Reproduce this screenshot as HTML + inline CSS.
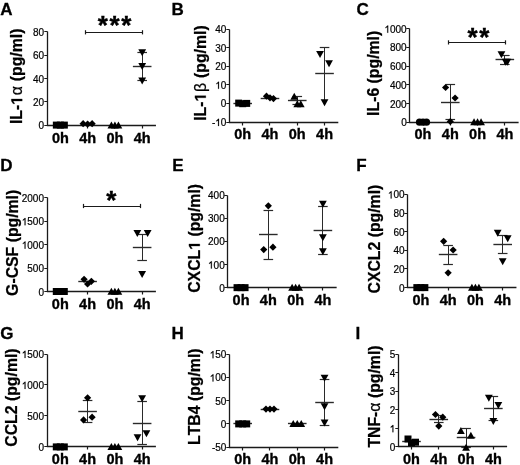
<!DOCTYPE html>
<html><head><meta charset="utf-8"><style>
html,body{margin:0;padding:0;background:#fff;width:520px;height:465px;overflow:hidden}
svg{display:block;will-change:transform}
</style></head><body>
<svg style="font-kerning:none" width="520" height="465" viewBox="0 0 520 465" font-family='"Liberation Sans", sans-serif' fill="#000">
<rect width="520" height="465" fill="#fff"/>
<text x="0.30" y="14.60" font-size="17" font-weight="bold" text-anchor="start" stroke="#000" stroke-width="0.3">A</text>
<g transform="translate(22.20,124.10) rotate(-90)" stroke="#000" stroke-width="0.25">
<text x="0.00" y="0" font-size="15.8" font-weight="bold" xml:space="preserve">IL-</text>
<polygon points="22.99,0.00 25.16,0.00 25.16,-10.87 23.11,-10.87 20.38,-9.10 20.38,-7.40 22.99,-9.03"/>
<text x="28.74" y="0" font-size="15.8" font-weight="normal">α</text>
<text x="38.52" y="0" font-size="15.8" font-weight="bold" xml:space="preserve"> (pg/ml)</text>
</g>
<path d="M47.50,31.50L47.50,125.50L155.95,125.50" fill="none" stroke="#1a1a1a" stroke-width="1.3"/>
<line x1="44.30" y1="125.50" x2="47.50" y2="125.50" stroke="#1a1a1a" stroke-width="1.0"/>
<text x="44.05" y="129.30" font-size="10" text-anchor="end" stroke="#000" stroke-width="0.2">0</text>
<line x1="44.30" y1="101.50" x2="47.50" y2="101.50" stroke="#1a1a1a" stroke-width="1.0"/>
<text x="44.05" y="105.95" font-size="10" text-anchor="end" stroke="#000" stroke-width="0.2">20</text>
<line x1="44.30" y1="78.50" x2="47.50" y2="78.50" stroke="#1a1a1a" stroke-width="1.0"/>
<text x="44.05" y="82.60" font-size="10" text-anchor="end" stroke="#000" stroke-width="0.2">40</text>
<line x1="44.30" y1="55.50" x2="47.50" y2="55.50" stroke="#1a1a1a" stroke-width="1.0"/>
<text x="44.05" y="59.25" font-size="10" text-anchor="end" stroke="#000" stroke-width="0.2">60</text>
<line x1="44.30" y1="31.50" x2="47.50" y2="31.50" stroke="#1a1a1a" stroke-width="1.0"/>
<text x="44.05" y="35.90" font-size="10" text-anchor="end" stroke="#000" stroke-width="0.2">80</text>
<line x1="60.50" y1="125.50" x2="60.50" y2="128.50" stroke="#1a1a1a" stroke-width="1.2"/>
<text x="60.35" y="142.50" font-size="14.5" font-weight="bold" text-anchor="middle" stroke="#000" stroke-width="0.35">0h</text>
<line x1="87.50" y1="125.50" x2="87.50" y2="128.50" stroke="#1a1a1a" stroke-width="1.2"/>
<text x="87.63" y="142.50" font-size="14.5" font-weight="bold" text-anchor="middle" stroke="#000" stroke-width="0.35">4h</text>
<line x1="114.50" y1="125.50" x2="114.50" y2="128.50" stroke="#1a1a1a" stroke-width="1.2"/>
<text x="114.91" y="142.50" font-size="14.5" font-weight="bold" text-anchor="middle" stroke="#000" stroke-width="0.35">0h</text>
<line x1="142.50" y1="125.50" x2="142.50" y2="128.50" stroke="#1a1a1a" stroke-width="1.2"/>
<text x="142.19" y="142.50" font-size="14.5" font-weight="bold" text-anchor="middle" stroke="#000" stroke-width="0.35">4h</text>
<line x1="142.50" y1="52.40" x2="142.50" y2="80.60" stroke="#2a2a2a" stroke-width="1.0"/>
<line x1="137.39" y1="52.50" x2="146.99" y2="52.50" stroke="#2a2a2a" stroke-width="1.2"/>
<line x1="137.39" y1="80.50" x2="146.99" y2="80.50" stroke="#2a2a2a" stroke-width="1.2"/>
<line x1="132.89" y1="66.50" x2="151.49" y2="66.50" stroke="#2a2a2a" stroke-width="1.4"/>
<rect x="52.85" y="121.60" width="7.00" height="7.00"/>
<rect x="56.85" y="121.60" width="7.00" height="7.00"/>
<rect x="60.85" y="121.60" width="7.00" height="7.00"/>
<path d="M83.13,120.10L86.73,123.70L83.13,127.30L79.53,123.70Z"/>
<path d="M87.63,120.50L91.23,124.10L87.63,127.70L84.03,124.10Z"/>
<path d="M92.13,120.10L95.73,123.70L92.13,127.30L88.53,123.70Z"/>
<path d="M111.41,121.45L115.31,128.45L107.51,128.45Z"/>
<path d="M114.91,121.45L118.81,128.45L111.01,128.45Z"/>
<path d="M118.41,121.45L122.31,128.45L114.51,128.45Z"/>
<path d="M142.19,56.34L146.09,49.34L138.29,49.34Z"/>
<path d="M142.19,69.94L146.09,62.94L138.29,62.94Z"/>
<path d="M142.19,84.54L146.09,77.54L138.29,77.54Z"/>
<line x1="85.40" y1="32.50" x2="142.60" y2="32.50" stroke="#1a1a1a" stroke-width="1.2"/>
<line x1="85.50" y1="30.20" x2="85.50" y2="34.40" stroke="#1a1a1a" stroke-width="1.2"/>
<line x1="142.50" y1="30.20" x2="142.50" y2="34.40" stroke="#1a1a1a" stroke-width="1.2"/>
<text x="115.40" y="33.60" font-size="26" font-weight="bold" text-anchor="middle" letter-spacing="1.6" stroke="#000" stroke-width="0.4">***</text>
<text x="171.60" y="14.60" font-size="17" font-weight="bold" text-anchor="start" stroke="#000" stroke-width="0.3">B</text>
<g transform="translate(205.80,120.80) rotate(-90)" stroke="#000" stroke-width="0.25">
<text x="0.00" y="0" font-size="15.8" font-weight="bold" xml:space="preserve">IL-</text>
<polygon points="22.99,0.00 25.16,0.00 25.16,-10.87 23.11,-10.87 20.38,-9.10 20.38,-7.40 22.99,-9.03"/>
<text x="28.74" y="0" font-size="15.8" font-weight="normal">β</text>
<text x="38.48" y="0" font-size="15.8" font-weight="bold" xml:space="preserve"> (pg/ml)</text>
</g>
<path d="M229.50,29.50L229.50,122.50L338.30,122.50" fill="none" stroke="#1a1a1a" stroke-width="1.3"/>
<line x1="226.30" y1="122.50" x2="229.50" y2="122.50" stroke="#1a1a1a" stroke-width="1.0"/>
<text x="226.40" y="126.00" font-size="10" text-anchor="end" stroke="#000" stroke-width="0.2">- 0</text>
<polygon points="219.00,126.00 218.12,126.00 218.12,120.40 216.37,121.46 216.37,120.61 218.42,118.84 219.00,118.84" stroke="#000" stroke-width="0.2"/>
<line x1="226.30" y1="103.50" x2="229.50" y2="103.50" stroke="#1a1a1a" stroke-width="1.0"/>
<text x="226.40" y="107.40" font-size="10" text-anchor="end" stroke="#000" stroke-width="0.2">0</text>
<line x1="226.30" y1="84.50" x2="229.50" y2="84.50" stroke="#1a1a1a" stroke-width="1.0"/>
<text x="226.40" y="88.80" font-size="10" text-anchor="end" stroke="#000" stroke-width="0.2"> 0</text>
<polygon points="219.00,88.80 218.12,88.80 218.12,83.20 216.37,84.26 216.37,83.41 218.42,81.64 219.00,81.64" stroke="#000" stroke-width="0.2"/>
<line x1="226.30" y1="66.50" x2="229.50" y2="66.50" stroke="#1a1a1a" stroke-width="1.0"/>
<text x="226.40" y="70.20" font-size="10" text-anchor="end" stroke="#000" stroke-width="0.2">20</text>
<line x1="226.30" y1="47.50" x2="229.50" y2="47.50" stroke="#1a1a1a" stroke-width="1.0"/>
<text x="226.40" y="51.60" font-size="10" text-anchor="end" stroke="#000" stroke-width="0.2">30</text>
<line x1="226.30" y1="29.50" x2="229.50" y2="29.50" stroke="#1a1a1a" stroke-width="1.0"/>
<text x="226.40" y="33.00" font-size="10" text-anchor="end" stroke="#000" stroke-width="0.2">40</text>
<line x1="242.50" y1="122.50" x2="242.50" y2="125.50" stroke="#1a1a1a" stroke-width="1.2"/>
<text x="242.70" y="139.20" font-size="14.5" font-weight="bold" text-anchor="middle" stroke="#000" stroke-width="0.35">0h</text>
<line x1="269.50" y1="122.50" x2="269.50" y2="125.50" stroke="#1a1a1a" stroke-width="1.2"/>
<text x="269.98" y="139.20" font-size="14.5" font-weight="bold" text-anchor="middle" stroke="#000" stroke-width="0.35">4h</text>
<line x1="297.50" y1="122.50" x2="297.50" y2="125.50" stroke="#1a1a1a" stroke-width="1.2"/>
<text x="297.26" y="139.20" font-size="14.5" font-weight="bold" text-anchor="middle" stroke="#000" stroke-width="0.35">0h</text>
<line x1="324.50" y1="122.50" x2="324.50" y2="125.50" stroke="#1a1a1a" stroke-width="1.2"/>
<text x="324.54" y="139.20" font-size="14.5" font-weight="bold" text-anchor="middle" stroke="#000" stroke-width="0.35">4h</text>
<line x1="233.40" y1="103.50" x2="252.00" y2="103.50" stroke="#2a2a2a" stroke-width="1.4"/>
<line x1="260.68" y1="98.50" x2="279.28" y2="98.50" stroke="#2a2a2a" stroke-width="1.4"/>
<line x1="297.50" y1="96.90" x2="297.50" y2="104.50" stroke="#2a2a2a" stroke-width="1.0"/>
<line x1="292.46" y1="96.50" x2="302.06" y2="96.50" stroke="#2a2a2a" stroke-width="1.2"/>
<line x1="292.46" y1="104.50" x2="302.06" y2="104.50" stroke="#2a2a2a" stroke-width="1.2"/>
<line x1="287.96" y1="100.50" x2="306.56" y2="100.50" stroke="#2a2a2a" stroke-width="1.4"/>
<line x1="324.50" y1="47.50" x2="324.50" y2="101.00" stroke="#2a2a2a" stroke-width="1.0"/>
<line x1="319.74" y1="47.50" x2="329.34" y2="47.50" stroke="#2a2a2a" stroke-width="1.2"/>
<line x1="315.24" y1="73.50" x2="333.84" y2="73.50" stroke="#2a2a2a" stroke-width="1.4"/>
<rect x="235.20" y="99.60" width="7.00" height="7.00"/>
<rect x="239.20" y="100.20" width="7.00" height="7.00"/>
<rect x="243.20" y="99.90" width="7.00" height="7.00"/>
<path d="M266.48,92.60L270.08,96.20L266.48,99.80L262.88,96.20Z"/>
<path d="M269.98,94.20L273.58,97.80L269.98,101.40L266.38,97.80Z"/>
<path d="M273.48,95.00L277.08,98.60L273.48,102.20L269.88,98.60Z"/>
<path d="M294.26,92.65L298.16,99.65L290.36,99.65Z"/>
<path d="M297.26,100.15L301.16,107.15L293.36,107.15Z"/>
<path d="M300.76,100.15L304.66,107.15L296.86,107.15Z"/>
<path d="M320.04,57.94L323.94,50.94L316.14,50.94Z"/>
<path d="M329.04,67.34L332.94,60.34L325.14,60.34Z"/>
<path d="M324.54,106.34L328.44,99.34L320.64,99.34Z"/>
<text x="356.50" y="14.60" font-size="17" font-weight="bold" text-anchor="start" stroke="#000" stroke-width="0.3">C</text>
<g transform="translate(379.10,115.90) rotate(-90)" stroke="#000" stroke-width="0.25">
<text x="0.00" y="0" font-size="15.8" font-weight="bold" xml:space="preserve">IL-6 (pg/ml)</text>
</g>
<path d="M409.50,28.50L409.50,122.50L518.60,122.50" fill="none" stroke="#1a1a1a" stroke-width="1.3"/>
<line x1="406.30" y1="122.50" x2="409.50" y2="122.50" stroke="#1a1a1a" stroke-width="1.0"/>
<text x="406.70" y="126.20" font-size="10" text-anchor="end" stroke="#000" stroke-width="0.2">0</text>
<line x1="406.30" y1="103.50" x2="409.50" y2="103.50" stroke="#1a1a1a" stroke-width="1.0"/>
<text x="406.70" y="107.50" font-size="10" text-anchor="end" stroke="#000" stroke-width="0.2">200</text>
<line x1="406.30" y1="84.50" x2="409.50" y2="84.50" stroke="#1a1a1a" stroke-width="1.0"/>
<text x="406.70" y="88.80" font-size="10" text-anchor="end" stroke="#000" stroke-width="0.2">400</text>
<line x1="406.30" y1="66.50" x2="409.50" y2="66.50" stroke="#1a1a1a" stroke-width="1.0"/>
<text x="406.70" y="70.10" font-size="10" text-anchor="end" stroke="#000" stroke-width="0.2">600</text>
<line x1="406.30" y1="47.50" x2="409.50" y2="47.50" stroke="#1a1a1a" stroke-width="1.0"/>
<text x="406.70" y="51.40" font-size="10" text-anchor="end" stroke="#000" stroke-width="0.2">800</text>
<line x1="406.30" y1="28.50" x2="409.50" y2="28.50" stroke="#1a1a1a" stroke-width="1.0"/>
<text x="406.70" y="32.70" font-size="10" text-anchor="end" stroke="#000" stroke-width="0.2"> 000</text>
<polygon points="388.18,32.70 387.30,32.70 387.30,27.10 385.54,28.16 385.54,27.31 387.59,25.54 388.18,25.54" stroke="#000" stroke-width="0.2"/>
<line x1="423.50" y1="122.50" x2="423.50" y2="125.50" stroke="#1a1a1a" stroke-width="1.2"/>
<text x="423.00" y="139.40" font-size="14.5" font-weight="bold" text-anchor="middle" stroke="#000" stroke-width="0.35">0h</text>
<line x1="450.50" y1="122.50" x2="450.50" y2="125.50" stroke="#1a1a1a" stroke-width="1.2"/>
<text x="450.28" y="139.40" font-size="14.5" font-weight="bold" text-anchor="middle" stroke="#000" stroke-width="0.35">4h</text>
<line x1="477.50" y1="122.50" x2="477.50" y2="125.50" stroke="#1a1a1a" stroke-width="1.2"/>
<text x="477.56" y="139.40" font-size="14.5" font-weight="bold" text-anchor="middle" stroke="#000" stroke-width="0.35">0h</text>
<line x1="504.50" y1="122.50" x2="504.50" y2="125.50" stroke="#1a1a1a" stroke-width="1.2"/>
<text x="504.84" y="139.40" font-size="14.5" font-weight="bold" text-anchor="middle" stroke="#000" stroke-width="0.35">4h</text>
<line x1="450.50" y1="84.50" x2="450.50" y2="119.60" stroke="#2a2a2a" stroke-width="1.0"/>
<line x1="445.48" y1="84.50" x2="455.08" y2="84.50" stroke="#2a2a2a" stroke-width="1.2"/>
<line x1="445.48" y1="119.50" x2="455.08" y2="119.50" stroke="#2a2a2a" stroke-width="1.2"/>
<line x1="440.98" y1="102.50" x2="459.58" y2="102.50" stroke="#2a2a2a" stroke-width="1.4"/>
<line x1="504.50" y1="55.40" x2="504.50" y2="64.00" stroke="#2a2a2a" stroke-width="1.0"/>
<line x1="500.04" y1="55.50" x2="509.64" y2="55.50" stroke="#2a2a2a" stroke-width="1.2"/>
<line x1="500.04" y1="64.50" x2="509.64" y2="64.50" stroke="#2a2a2a" stroke-width="1.2"/>
<line x1="495.54" y1="59.50" x2="514.14" y2="59.50" stroke="#2a2a2a" stroke-width="1.4"/>
<circle cx="419.50" cy="122.20" r="3.6"/>
<circle cx="423.00" cy="122.20" r="3.6"/>
<circle cx="426.50" cy="122.20" r="3.6"/>
<path d="M445.58,83.90L449.18,87.50L445.58,91.10L441.98,87.50Z"/>
<path d="M455.08,94.40L458.68,98.00L455.08,101.60L451.48,98.00Z"/>
<path d="M450.28,117.90L453.88,121.50L450.28,125.10L446.68,121.50Z"/>
<path d="M474.06,118.35L477.96,125.35L470.16,125.35Z"/>
<path d="M477.56,118.35L481.46,125.35L473.66,125.35Z"/>
<path d="M481.06,118.35L484.96,125.35L477.16,125.35Z"/>
<path d="M501.44,58.14L505.34,51.14L497.54,51.14Z"/>
<path d="M505.64,65.74L509.54,58.74L501.74,58.74Z"/>
<path d="M507.34,65.74L511.24,58.74L503.44,58.74Z"/>
<line x1="448.50" y1="42.50" x2="505.30" y2="42.50" stroke="#1a1a1a" stroke-width="1.2"/>
<line x1="448.50" y1="40.30" x2="448.50" y2="44.50" stroke="#1a1a1a" stroke-width="1.2"/>
<line x1="505.50" y1="40.30" x2="505.50" y2="44.50" stroke="#1a1a1a" stroke-width="1.2"/>
<text x="479.30" y="46.00" font-size="26" font-weight="bold" text-anchor="middle" letter-spacing="1.6" stroke="#000" stroke-width="0.4">**</text>
<text x="0.30" y="171.00" font-size="17" font-weight="bold" text-anchor="start" stroke="#000" stroke-width="0.3">D</text>
<g transform="translate(17.50,295.90) rotate(-90)" stroke="#000" stroke-width="0.25">
<text x="0.00" y="0" font-size="15.8" font-weight="bold" xml:space="preserve">G-CSF (pg/ml)</text>
</g>
<path d="M47.50,197.50L47.50,291.50L155.90,291.50" fill="none" stroke="#1a1a1a" stroke-width="1.3"/>
<line x1="44.30" y1="291.50" x2="47.50" y2="291.50" stroke="#1a1a1a" stroke-width="1.0"/>
<text x="44.00" y="295.50" font-size="10" text-anchor="end" stroke="#000" stroke-width="0.2">0</text>
<line x1="44.30" y1="268.50" x2="47.50" y2="268.50" stroke="#1a1a1a" stroke-width="1.0"/>
<text x="44.00" y="272.07" font-size="10" text-anchor="end" stroke="#000" stroke-width="0.2">500</text>
<line x1="44.30" y1="244.50" x2="47.50" y2="244.50" stroke="#1a1a1a" stroke-width="1.0"/>
<text x="44.00" y="248.65" font-size="10" text-anchor="end" stroke="#000" stroke-width="0.2"> 000</text>
<polygon points="25.48,248.65 24.60,248.65 24.60,243.05 22.84,244.11 22.84,243.26 24.89,241.49 25.48,241.49" stroke="#000" stroke-width="0.2"/>
<line x1="44.30" y1="221.50" x2="47.50" y2="221.50" stroke="#1a1a1a" stroke-width="1.0"/>
<text x="44.00" y="225.23" font-size="10" text-anchor="end" stroke="#000" stroke-width="0.2"> 500</text>
<polygon points="25.48,225.23 24.60,225.23 24.60,219.62 22.84,220.68 22.84,219.83 24.89,218.07 25.48,218.07" stroke="#000" stroke-width="0.2"/>
<line x1="44.30" y1="197.50" x2="47.50" y2="197.50" stroke="#1a1a1a" stroke-width="1.0"/>
<text x="44.00" y="201.80" font-size="10" text-anchor="end" stroke="#000" stroke-width="0.2">2000</text>
<line x1="60.50" y1="291.50" x2="60.50" y2="294.50" stroke="#1a1a1a" stroke-width="1.2"/>
<text x="60.30" y="308.70" font-size="14.5" font-weight="bold" text-anchor="middle" stroke="#000" stroke-width="0.35">0h</text>
<line x1="87.50" y1="291.50" x2="87.50" y2="294.50" stroke="#1a1a1a" stroke-width="1.2"/>
<text x="87.58" y="308.70" font-size="14.5" font-weight="bold" text-anchor="middle" stroke="#000" stroke-width="0.35">4h</text>
<line x1="114.50" y1="291.50" x2="114.50" y2="294.50" stroke="#1a1a1a" stroke-width="1.2"/>
<text x="114.86" y="308.70" font-size="14.5" font-weight="bold" text-anchor="middle" stroke="#000" stroke-width="0.35">0h</text>
<line x1="142.50" y1="291.50" x2="142.50" y2="294.50" stroke="#1a1a1a" stroke-width="1.2"/>
<text x="142.14" y="308.70" font-size="14.5" font-weight="bold" text-anchor="middle" stroke="#000" stroke-width="0.35">4h</text>
<line x1="78.28" y1="281.50" x2="96.88" y2="281.50" stroke="#2a2a2a" stroke-width="1.4"/>
<line x1="142.50" y1="234.50" x2="142.50" y2="260.60" stroke="#2a2a2a" stroke-width="1.0"/>
<line x1="137.34" y1="234.50" x2="146.94" y2="234.50" stroke="#2a2a2a" stroke-width="1.2"/>
<line x1="137.34" y1="260.50" x2="146.94" y2="260.50" stroke="#2a2a2a" stroke-width="1.2"/>
<line x1="132.84" y1="247.50" x2="151.44" y2="247.50" stroke="#2a2a2a" stroke-width="1.4"/>
<rect x="52.80" y="288.00" width="7.00" height="7.00"/>
<rect x="56.80" y="288.00" width="7.00" height="7.00"/>
<rect x="60.80" y="288.00" width="7.00" height="7.00"/>
<path d="M84.08,275.70L87.68,279.30L84.08,282.90L80.48,279.30Z"/>
<path d="M87.58,280.40L91.18,284.00L87.58,287.60L83.98,284.00Z"/>
<path d="M91.38,277.70L94.98,281.30L91.38,284.90L87.78,281.30Z"/>
<path d="M111.36,287.65L115.26,294.65L107.46,294.65Z"/>
<path d="M114.86,287.65L118.76,294.65L110.96,294.65Z"/>
<path d="M118.36,287.65L122.26,294.65L114.46,294.65Z"/>
<path d="M137.34,236.94L141.24,229.94L133.44,229.94Z"/>
<path d="M147.64,236.94L151.54,229.94L143.74,229.94Z"/>
<path d="M142.14,278.04L146.04,271.04L138.24,271.04Z"/>
<line x1="83.50" y1="206.50" x2="140.40" y2="206.50" stroke="#1a1a1a" stroke-width="1.2"/>
<line x1="83.50" y1="203.90" x2="83.50" y2="208.10" stroke="#1a1a1a" stroke-width="1.2"/>
<line x1="140.50" y1="203.90" x2="140.50" y2="208.10" stroke="#1a1a1a" stroke-width="1.2"/>
<text x="112.20" y="208.50" font-size="26" font-weight="bold" text-anchor="middle" letter-spacing="1.6" stroke="#000" stroke-width="0.4">*</text>
<text x="172.20" y="171.00" font-size="17" font-weight="bold" text-anchor="start" stroke="#000" stroke-width="0.3">E</text>
<g transform="translate(199.80,292.80) rotate(-90)" stroke="#000" stroke-width="0.25">
<text x="0.00" y="0" font-size="15.8" font-weight="bold" xml:space="preserve">CXCL</text>
<polygon points="46.70,0.00 48.87,0.00 48.87,-10.87 46.81,-10.87 44.09,-9.10 44.09,-7.40 46.70,-9.03"/>
<text x="51.80" y="0" font-size="15.8" font-weight="bold" xml:space="preserve"> (pg/ml)</text>
</g>
<path d="M227.50,195.50L227.50,287.50L336.65,287.50" fill="none" stroke="#1a1a1a" stroke-width="1.3"/>
<line x1="224.30" y1="287.50" x2="227.50" y2="287.50" stroke="#1a1a1a" stroke-width="1.0"/>
<text x="224.75" y="291.65" font-size="10" text-anchor="end" stroke="#000" stroke-width="0.2">0</text>
<line x1="224.30" y1="264.50" x2="227.50" y2="264.50" stroke="#1a1a1a" stroke-width="1.0"/>
<text x="224.75" y="268.51" font-size="10" text-anchor="end" stroke="#000" stroke-width="0.2"> 00</text>
<polygon points="211.79,268.51 210.91,268.51 210.91,262.91 209.15,263.97 209.15,263.12 211.21,261.35 211.79,261.35" stroke="#000" stroke-width="0.2"/>
<line x1="224.30" y1="241.50" x2="227.50" y2="241.50" stroke="#1a1a1a" stroke-width="1.0"/>
<text x="224.75" y="245.38" font-size="10" text-anchor="end" stroke="#000" stroke-width="0.2">200</text>
<line x1="224.30" y1="218.50" x2="227.50" y2="218.50" stroke="#1a1a1a" stroke-width="1.0"/>
<text x="224.75" y="222.24" font-size="10" text-anchor="end" stroke="#000" stroke-width="0.2">300</text>
<line x1="224.30" y1="195.50" x2="227.50" y2="195.50" stroke="#1a1a1a" stroke-width="1.0"/>
<text x="224.75" y="199.10" font-size="10" text-anchor="end" stroke="#000" stroke-width="0.2">400</text>
<line x1="241.50" y1="287.50" x2="241.50" y2="290.50" stroke="#1a1a1a" stroke-width="1.2"/>
<text x="241.05" y="304.85" font-size="14.5" font-weight="bold" text-anchor="middle" stroke="#000" stroke-width="0.35">0h</text>
<line x1="268.50" y1="287.50" x2="268.50" y2="290.50" stroke="#1a1a1a" stroke-width="1.2"/>
<text x="268.33" y="304.85" font-size="14.5" font-weight="bold" text-anchor="middle" stroke="#000" stroke-width="0.35">4h</text>
<line x1="295.50" y1="287.50" x2="295.50" y2="290.50" stroke="#1a1a1a" stroke-width="1.2"/>
<text x="295.61" y="304.85" font-size="14.5" font-weight="bold" text-anchor="middle" stroke="#000" stroke-width="0.35">0h</text>
<line x1="322.50" y1="287.50" x2="322.50" y2="290.50" stroke="#1a1a1a" stroke-width="1.2"/>
<text x="322.89" y="304.85" font-size="14.5" font-weight="bold" text-anchor="middle" stroke="#000" stroke-width="0.35">4h</text>
<line x1="268.50" y1="210.00" x2="268.50" y2="259.00" stroke="#2a2a2a" stroke-width="1.0"/>
<line x1="263.53" y1="210.50" x2="273.13" y2="210.50" stroke="#2a2a2a" stroke-width="1.2"/>
<line x1="263.53" y1="259.50" x2="273.13" y2="259.50" stroke="#2a2a2a" stroke-width="1.2"/>
<line x1="259.03" y1="234.50" x2="277.63" y2="234.50" stroke="#2a2a2a" stroke-width="1.4"/>
<line x1="322.50" y1="206.40" x2="322.50" y2="254.60" stroke="#2a2a2a" stroke-width="1.0"/>
<line x1="318.09" y1="206.50" x2="327.69" y2="206.50" stroke="#2a2a2a" stroke-width="1.2"/>
<line x1="318.09" y1="254.50" x2="327.69" y2="254.50" stroke="#2a2a2a" stroke-width="1.2"/>
<line x1="313.59" y1="230.50" x2="332.19" y2="230.50" stroke="#2a2a2a" stroke-width="1.4"/>
<rect x="233.55" y="284.15" width="7.00" height="7.00"/>
<rect x="237.55" y="284.15" width="7.00" height="7.00"/>
<rect x="241.55" y="284.15" width="7.00" height="7.00"/>
<path d="M268.33,202.20L271.93,205.80L268.33,209.40L264.73,205.80Z"/>
<path d="M263.73,246.00L267.33,249.60L263.73,253.20L260.13,249.60Z"/>
<path d="M272.93,243.60L276.53,247.20L272.93,250.80L269.33,247.20Z"/>
<path d="M292.11,283.80L296.01,290.80L288.21,290.80Z"/>
<path d="M295.61,283.80L299.51,290.80L291.71,290.80Z"/>
<path d="M299.11,283.80L303.01,290.80L295.21,290.80Z"/>
<path d="M322.89,207.84L326.79,200.84L318.99,200.84Z"/>
<path d="M322.89,241.14L326.79,234.14L318.99,234.14Z"/>
<path d="M322.89,255.14L326.79,248.14L318.99,248.14Z"/>
<text x="356.30" y="171.00" font-size="17" font-weight="bold" text-anchor="start" stroke="#000" stroke-width="0.3">F</text>
<g transform="translate(380.10,293.50) rotate(-90)" stroke="#000" stroke-width="0.25">
<text x="0.00" y="0" font-size="15.8" font-weight="bold" xml:space="preserve">CXCL2 (pg/ml)</text>
</g>
<path d="M407.50,194.50L407.50,287.50L516.45,287.50" fill="none" stroke="#1a1a1a" stroke-width="1.3"/>
<line x1="404.30" y1="287.50" x2="407.50" y2="287.50" stroke="#1a1a1a" stroke-width="1.0"/>
<text x="404.55" y="291.60" font-size="10" text-anchor="end" stroke="#000" stroke-width="0.2">0</text>
<line x1="404.30" y1="268.50" x2="407.50" y2="268.50" stroke="#1a1a1a" stroke-width="1.0"/>
<text x="404.55" y="272.96" font-size="10" text-anchor="end" stroke="#000" stroke-width="0.2">20</text>
<line x1="404.30" y1="250.50" x2="407.50" y2="250.50" stroke="#1a1a1a" stroke-width="1.0"/>
<text x="404.55" y="254.32" font-size="10" text-anchor="end" stroke="#000" stroke-width="0.2">40</text>
<line x1="404.30" y1="231.50" x2="407.50" y2="231.50" stroke="#1a1a1a" stroke-width="1.0"/>
<text x="404.55" y="235.68" font-size="10" text-anchor="end" stroke="#000" stroke-width="0.2">60</text>
<line x1="404.30" y1="213.50" x2="407.50" y2="213.50" stroke="#1a1a1a" stroke-width="1.0"/>
<text x="404.55" y="217.04" font-size="10" text-anchor="end" stroke="#000" stroke-width="0.2">80</text>
<line x1="404.30" y1="194.50" x2="407.50" y2="194.50" stroke="#1a1a1a" stroke-width="1.0"/>
<text x="404.55" y="198.40" font-size="10" text-anchor="end" stroke="#000" stroke-width="0.2"> 00</text>
<polygon points="391.59,198.40 390.71,198.40 390.71,192.80 388.95,193.86 388.95,193.01 391.01,191.24 391.59,191.24" stroke="#000" stroke-width="0.2"/>
<line x1="420.50" y1="287.50" x2="420.50" y2="290.50" stroke="#1a1a1a" stroke-width="1.2"/>
<text x="420.85" y="304.80" font-size="14.5" font-weight="bold" text-anchor="middle" stroke="#000" stroke-width="0.35">0h</text>
<line x1="448.50" y1="287.50" x2="448.50" y2="290.50" stroke="#1a1a1a" stroke-width="1.2"/>
<text x="448.13" y="304.80" font-size="14.5" font-weight="bold" text-anchor="middle" stroke="#000" stroke-width="0.35">4h</text>
<line x1="475.50" y1="287.50" x2="475.50" y2="290.50" stroke="#1a1a1a" stroke-width="1.2"/>
<text x="475.41" y="304.80" font-size="14.5" font-weight="bold" text-anchor="middle" stroke="#000" stroke-width="0.35">0h</text>
<line x1="502.50" y1="287.50" x2="502.50" y2="290.50" stroke="#1a1a1a" stroke-width="1.2"/>
<text x="502.69" y="304.80" font-size="14.5" font-weight="bold" text-anchor="middle" stroke="#000" stroke-width="0.35">4h</text>
<line x1="448.50" y1="245.40" x2="448.50" y2="264.20" stroke="#2a2a2a" stroke-width="1.0"/>
<line x1="443.33" y1="245.50" x2="452.93" y2="245.50" stroke="#2a2a2a" stroke-width="1.2"/>
<line x1="443.33" y1="264.50" x2="452.93" y2="264.50" stroke="#2a2a2a" stroke-width="1.2"/>
<line x1="438.83" y1="254.50" x2="457.43" y2="254.50" stroke="#2a2a2a" stroke-width="1.4"/>
<line x1="502.50" y1="235.20" x2="502.50" y2="253.20" stroke="#2a2a2a" stroke-width="1.0"/>
<line x1="497.89" y1="235.50" x2="507.49" y2="235.50" stroke="#2a2a2a" stroke-width="1.2"/>
<line x1="497.89" y1="253.50" x2="507.49" y2="253.50" stroke="#2a2a2a" stroke-width="1.2"/>
<line x1="493.39" y1="244.50" x2="511.99" y2="244.50" stroke="#2a2a2a" stroke-width="1.4"/>
<rect x="413.35" y="284.10" width="7.00" height="7.00"/>
<rect x="417.35" y="284.10" width="7.00" height="7.00"/>
<rect x="421.35" y="284.10" width="7.00" height="7.00"/>
<path d="M443.63,237.70L447.23,241.30L443.63,244.90L440.03,241.30Z"/>
<path d="M453.13,246.40L456.73,250.00L453.13,253.60L449.53,250.00Z"/>
<path d="M448.13,269.20L451.73,272.80L448.13,276.40L444.53,272.80Z"/>
<path d="M471.91,283.75L475.81,290.75L468.01,290.75Z"/>
<path d="M475.41,283.75L479.31,290.75L471.51,290.75Z"/>
<path d="M478.91,283.75L482.81,290.75L475.01,290.75Z"/>
<path d="M497.69,236.74L501.59,229.74L493.79,229.74Z"/>
<path d="M507.69,242.34L511.59,235.34L503.79,235.34Z"/>
<path d="M502.69,265.34L506.59,258.34L498.79,258.34Z"/>
<text x="0.30" y="338.60" font-size="17" font-weight="bold" text-anchor="start" stroke="#000" stroke-width="0.3">G</text>
<g transform="translate(17.00,446.70) rotate(-90)" stroke="#000" stroke-width="0.25">
<text x="0.00" y="0" font-size="15.8" font-weight="bold" xml:space="preserve">CCL2 (pg/ml)</text>
</g>
<path d="M47.50,354.50L47.50,446.50L155.90,446.50" fill="none" stroke="#1a1a1a" stroke-width="1.3"/>
<line x1="44.30" y1="446.50" x2="47.50" y2="446.50" stroke="#1a1a1a" stroke-width="1.0"/>
<text x="44.00" y="450.90" font-size="10" text-anchor="end" stroke="#000" stroke-width="0.2">0</text>
<line x1="44.30" y1="415.50" x2="47.50" y2="415.50" stroke="#1a1a1a" stroke-width="1.0"/>
<text x="44.00" y="419.93" font-size="10" text-anchor="end" stroke="#000" stroke-width="0.2">500</text>
<line x1="44.30" y1="384.50" x2="47.50" y2="384.50" stroke="#1a1a1a" stroke-width="1.0"/>
<text x="44.00" y="388.97" font-size="10" text-anchor="end" stroke="#000" stroke-width="0.2"> 000</text>
<polygon points="25.48,388.97 24.60,388.97 24.60,383.37 22.84,384.43 22.84,383.58 24.89,381.81 25.48,381.81" stroke="#000" stroke-width="0.2"/>
<line x1="44.30" y1="354.50" x2="47.50" y2="354.50" stroke="#1a1a1a" stroke-width="1.0"/>
<text x="44.00" y="358.00" font-size="10" text-anchor="end" stroke="#000" stroke-width="0.2"> 500</text>
<polygon points="25.48,358.00 24.60,358.00 24.60,352.40 22.84,353.46 22.84,352.61 24.89,350.84 25.48,350.84" stroke="#000" stroke-width="0.2"/>
<line x1="60.50" y1="446.50" x2="60.50" y2="449.50" stroke="#1a1a1a" stroke-width="1.2"/>
<text x="60.30" y="464.10" font-size="14.5" font-weight="bold" text-anchor="middle" stroke="#000" stroke-width="0.35">0h</text>
<line x1="87.50" y1="446.50" x2="87.50" y2="449.50" stroke="#1a1a1a" stroke-width="1.2"/>
<text x="87.58" y="464.10" font-size="14.5" font-weight="bold" text-anchor="middle" stroke="#000" stroke-width="0.35">4h</text>
<line x1="114.50" y1="446.50" x2="114.50" y2="449.50" stroke="#1a1a1a" stroke-width="1.2"/>
<text x="114.86" y="464.10" font-size="14.5" font-weight="bold" text-anchor="middle" stroke="#000" stroke-width="0.35">0h</text>
<line x1="142.50" y1="446.50" x2="142.50" y2="449.50" stroke="#1a1a1a" stroke-width="1.2"/>
<text x="142.14" y="464.10" font-size="14.5" font-weight="bold" text-anchor="middle" stroke="#000" stroke-width="0.35">4h</text>
<line x1="87.50" y1="400.50" x2="87.50" y2="422.90" stroke="#2a2a2a" stroke-width="1.0"/>
<line x1="82.78" y1="400.50" x2="92.38" y2="400.50" stroke="#2a2a2a" stroke-width="1.2"/>
<line x1="82.78" y1="422.50" x2="92.38" y2="422.50" stroke="#2a2a2a" stroke-width="1.2"/>
<line x1="78.28" y1="411.50" x2="96.88" y2="411.50" stroke="#2a2a2a" stroke-width="1.4"/>
<line x1="142.50" y1="401.90" x2="142.50" y2="444.40" stroke="#2a2a2a" stroke-width="1.0"/>
<line x1="137.34" y1="401.50" x2="146.94" y2="401.50" stroke="#2a2a2a" stroke-width="1.2"/>
<line x1="137.34" y1="444.50" x2="146.94" y2="444.50" stroke="#2a2a2a" stroke-width="1.2"/>
<line x1="132.84" y1="423.50" x2="151.44" y2="423.50" stroke="#2a2a2a" stroke-width="1.4"/>
<rect x="52.80" y="443.40" width="7.00" height="7.00"/>
<rect x="56.80" y="443.40" width="7.00" height="7.00"/>
<rect x="60.80" y="443.40" width="7.00" height="7.00"/>
<path d="M87.58,394.20L91.18,397.80L87.58,401.40L83.98,397.80Z"/>
<path d="M83.58,416.30L87.18,419.90L83.58,423.50L79.98,419.90Z"/>
<path d="M92.08,413.60L95.68,417.20L92.08,420.80L88.48,417.20Z"/>
<path d="M111.36,443.05L115.26,450.05L107.46,450.05Z"/>
<path d="M114.86,443.05L118.76,450.05L110.96,450.05Z"/>
<path d="M118.36,443.05L122.26,450.05L114.46,450.05Z"/>
<path d="M142.14,402.14L146.04,395.14L138.24,395.14Z"/>
<path d="M137.54,441.14L141.44,434.14L133.64,434.14Z"/>
<path d="M146.44,437.14L150.34,430.14L142.54,430.14Z"/>
<text x="171.60" y="338.60" font-size="17" font-weight="bold" text-anchor="start" stroke="#000" stroke-width="0.3">H</text>
<g transform="translate(199.80,445.00) rotate(-90)" stroke="#000" stroke-width="0.25">
<text x="0.00" y="0" font-size="15.8" font-weight="bold" xml:space="preserve">LTB4 (pg/ml)</text>
</g>
<path d="M229.50,354.50L229.50,447.50L338.30,447.50" fill="none" stroke="#1a1a1a" stroke-width="1.3"/>
<line x1="226.30" y1="447.50" x2="229.50" y2="447.50" stroke="#1a1a1a" stroke-width="1.0"/>
<text x="226.40" y="451.12" font-size="10" text-anchor="end" stroke="#000" stroke-width="0.2">-50</text>
<line x1="226.30" y1="423.50" x2="229.50" y2="423.50" stroke="#1a1a1a" stroke-width="1.0"/>
<text x="226.40" y="427.90" font-size="10" text-anchor="end" stroke="#000" stroke-width="0.2">0</text>
<line x1="226.30" y1="400.50" x2="229.50" y2="400.50" stroke="#1a1a1a" stroke-width="1.0"/>
<text x="226.40" y="404.67" font-size="10" text-anchor="end" stroke="#000" stroke-width="0.2">50</text>
<line x1="226.30" y1="377.50" x2="229.50" y2="377.50" stroke="#1a1a1a" stroke-width="1.0"/>
<text x="226.40" y="381.45" font-size="10" text-anchor="end" stroke="#000" stroke-width="0.2"> 00</text>
<polygon points="213.44,381.45 212.56,381.45 212.56,375.85 210.80,376.91 210.80,376.06 212.86,374.29 213.44,374.29" stroke="#000" stroke-width="0.2"/>
<line x1="226.30" y1="354.50" x2="229.50" y2="354.50" stroke="#1a1a1a" stroke-width="1.0"/>
<text x="226.40" y="358.23" font-size="10" text-anchor="end" stroke="#000" stroke-width="0.2"> 50</text>
<polygon points="213.44,358.23 212.56,358.23 212.56,352.62 210.80,353.68 210.80,352.83 212.86,351.07 213.44,351.07" stroke="#000" stroke-width="0.2"/>
<line x1="242.50" y1="447.50" x2="242.50" y2="450.50" stroke="#1a1a1a" stroke-width="1.2"/>
<text x="242.70" y="464.32" font-size="14.5" font-weight="bold" text-anchor="middle" stroke="#000" stroke-width="0.35">0h</text>
<line x1="269.50" y1="447.50" x2="269.50" y2="450.50" stroke="#1a1a1a" stroke-width="1.2"/>
<text x="269.98" y="464.32" font-size="14.5" font-weight="bold" text-anchor="middle" stroke="#000" stroke-width="0.35">4h</text>
<line x1="297.50" y1="447.50" x2="297.50" y2="450.50" stroke="#1a1a1a" stroke-width="1.2"/>
<text x="297.26" y="464.32" font-size="14.5" font-weight="bold" text-anchor="middle" stroke="#000" stroke-width="0.35">0h</text>
<line x1="324.50" y1="447.50" x2="324.50" y2="450.50" stroke="#1a1a1a" stroke-width="1.2"/>
<text x="324.54" y="464.32" font-size="14.5" font-weight="bold" text-anchor="middle" stroke="#000" stroke-width="0.35">4h</text>
<line x1="233.40" y1="423.50" x2="252.00" y2="423.50" stroke="#2a2a2a" stroke-width="1.4"/>
<line x1="260.68" y1="409.50" x2="279.28" y2="409.50" stroke="#2a2a2a" stroke-width="1.4"/>
<line x1="287.96" y1="423.50" x2="306.56" y2="423.50" stroke="#2a2a2a" stroke-width="1.4"/>
<line x1="324.50" y1="379.00" x2="324.50" y2="425.60" stroke="#2a2a2a" stroke-width="1.0"/>
<line x1="319.74" y1="379.50" x2="329.34" y2="379.50" stroke="#2a2a2a" stroke-width="1.2"/>
<line x1="319.74" y1="425.50" x2="329.34" y2="425.50" stroke="#2a2a2a" stroke-width="1.2"/>
<line x1="315.24" y1="402.50" x2="333.84" y2="402.50" stroke="#2a2a2a" stroke-width="1.4"/>
<rect x="235.20" y="420.40" width="7.00" height="7.00"/>
<rect x="239.20" y="420.40" width="7.00" height="7.00"/>
<rect x="243.20" y="420.40" width="7.00" height="7.00"/>
<path d="M265.98,405.50L269.58,409.10L265.98,412.70L262.38,409.10Z"/>
<path d="M269.98,405.50L273.58,409.10L269.98,412.70L266.38,409.10Z"/>
<path d="M273.98,405.50L277.58,409.10L273.98,412.70L270.38,409.10Z"/>
<path d="M293.26,420.05L297.16,427.05L289.36,427.05Z"/>
<path d="M297.26,420.05L301.16,427.05L293.36,427.05Z"/>
<path d="M301.26,420.05L305.16,427.05L297.36,427.05Z"/>
<path d="M324.54,381.64L328.44,374.64L320.64,374.64Z"/>
<path d="M324.54,410.34L328.44,403.34L320.64,403.34Z"/>
<path d="M324.54,426.54L328.44,419.54L320.64,419.54Z"/>
<text x="355.60" y="338.60" font-size="17" font-weight="bold" text-anchor="start" stroke="#000" stroke-width="0.3">I</text>
<g transform="translate(379.60,447.60) rotate(-90)" stroke="#000" stroke-width="0.25">
<text x="0.00" y="0" font-size="15.8" font-weight="bold" xml:space="preserve">TNF-</text>
<text x="35.97" y="0" font-size="15.8" font-weight="normal">α</text>
<text x="45.11" y="0" font-size="15.8" font-weight="bold" xml:space="preserve"> (pg/ml)</text>
</g>
<path d="M398.50,354.50L398.50,446.50L507.10,446.50" fill="none" stroke="#1a1a1a" stroke-width="1.3"/>
<line x1="395.30" y1="446.50" x2="398.50" y2="446.50" stroke="#1a1a1a" stroke-width="1.0"/>
<text x="395.20" y="450.70" font-size="10" text-anchor="end" stroke="#000" stroke-width="0.2">0</text>
<line x1="395.30" y1="428.50" x2="398.50" y2="428.50" stroke="#1a1a1a" stroke-width="1.0"/>
<text x="395.20" y="432.24" font-size="10" text-anchor="end" stroke="#000" stroke-width="0.2"> </text>
<polygon points="393.36,432.24 392.49,432.24 392.49,426.64 390.73,427.70 390.73,426.85 392.78,425.08 393.36,425.08" stroke="#000" stroke-width="0.2"/>
<line x1="395.30" y1="409.50" x2="398.50" y2="409.50" stroke="#1a1a1a" stroke-width="1.0"/>
<text x="395.20" y="413.78" font-size="10" text-anchor="end" stroke="#000" stroke-width="0.2">2</text>
<line x1="395.30" y1="391.50" x2="398.50" y2="391.50" stroke="#1a1a1a" stroke-width="1.0"/>
<text x="395.20" y="395.32" font-size="10" text-anchor="end" stroke="#000" stroke-width="0.2">3</text>
<line x1="395.30" y1="372.50" x2="398.50" y2="372.50" stroke="#1a1a1a" stroke-width="1.0"/>
<text x="395.20" y="376.86" font-size="10" text-anchor="end" stroke="#000" stroke-width="0.2">4</text>
<line x1="395.30" y1="354.50" x2="398.50" y2="354.50" stroke="#1a1a1a" stroke-width="1.0"/>
<text x="395.20" y="358.40" font-size="10" text-anchor="end" stroke="#000" stroke-width="0.2">5</text>
<line x1="411.50" y1="446.50" x2="411.50" y2="449.50" stroke="#1a1a1a" stroke-width="1.2"/>
<text x="411.50" y="463.90" font-size="14.5" font-weight="bold" text-anchor="middle" stroke="#000" stroke-width="0.35">0h</text>
<line x1="438.50" y1="446.50" x2="438.50" y2="449.50" stroke="#1a1a1a" stroke-width="1.2"/>
<text x="438.78" y="463.90" font-size="14.5" font-weight="bold" text-anchor="middle" stroke="#000" stroke-width="0.35">4h</text>
<line x1="466.50" y1="446.50" x2="466.50" y2="449.50" stroke="#1a1a1a" stroke-width="1.2"/>
<text x="466.06" y="463.90" font-size="14.5" font-weight="bold" text-anchor="middle" stroke="#000" stroke-width="0.35">0h</text>
<line x1="493.50" y1="446.50" x2="493.50" y2="449.50" stroke="#1a1a1a" stroke-width="1.2"/>
<text x="493.34" y="463.90" font-size="14.5" font-weight="bold" text-anchor="middle" stroke="#000" stroke-width="0.35">4h</text>
<line x1="402.20" y1="441.50" x2="420.80" y2="441.50" stroke="#2a2a2a" stroke-width="1.4"/>
<line x1="438.50" y1="415.90" x2="438.50" y2="422.60" stroke="#2a2a2a" stroke-width="1.0"/>
<line x1="433.98" y1="415.50" x2="443.58" y2="415.50" stroke="#2a2a2a" stroke-width="1.2"/>
<line x1="433.98" y1="422.50" x2="443.58" y2="422.50" stroke="#2a2a2a" stroke-width="1.2"/>
<line x1="429.48" y1="419.50" x2="448.08" y2="419.50" stroke="#2a2a2a" stroke-width="1.4"/>
<line x1="466.50" y1="428.80" x2="466.50" y2="447.00" stroke="#2a2a2a" stroke-width="1.0"/>
<line x1="461.26" y1="428.50" x2="470.86" y2="428.50" stroke="#2a2a2a" stroke-width="1.2"/>
<line x1="461.26" y1="447.50" x2="470.86" y2="447.50" stroke="#2a2a2a" stroke-width="1.2"/>
<line x1="456.76" y1="437.50" x2="475.36" y2="437.50" stroke="#2a2a2a" stroke-width="1.4"/>
<line x1="493.50" y1="396.50" x2="493.50" y2="420.20" stroke="#2a2a2a" stroke-width="1.0"/>
<line x1="488.54" y1="396.50" x2="498.14" y2="396.50" stroke="#2a2a2a" stroke-width="1.2"/>
<line x1="488.54" y1="420.50" x2="498.14" y2="420.50" stroke="#2a2a2a" stroke-width="1.2"/>
<line x1="484.04" y1="408.50" x2="502.64" y2="408.50" stroke="#2a2a2a" stroke-width="1.4"/>
<rect x="404.50" y="435.50" width="7.00" height="7.00"/>
<rect x="408.00" y="439.30" width="7.00" height="7.00"/>
<rect x="412.00" y="438.70" width="7.00" height="7.00"/>
<path d="M435.48,410.90L439.08,414.50L435.48,418.10L431.88,414.50Z"/>
<path d="M442.78,413.60L446.38,417.20L442.78,420.80L439.18,417.20Z"/>
<path d="M438.78,422.50L442.38,426.10L438.78,429.70L435.18,426.10Z"/>
<path d="M460.86,427.05L464.76,434.05L456.96,434.05Z"/>
<path d="M470.86,431.65L474.76,438.65L466.96,438.65Z"/>
<path d="M466.06,443.75L469.96,450.75L462.16,450.75Z"/>
<path d="M488.84,401.64L492.74,394.64L484.94,394.64Z"/>
<path d="M498.34,408.94L502.24,401.94L494.44,401.94Z"/>
<path d="M493.34,425.04L497.24,418.04L489.44,418.04Z"/>
</svg>
</body></html>
